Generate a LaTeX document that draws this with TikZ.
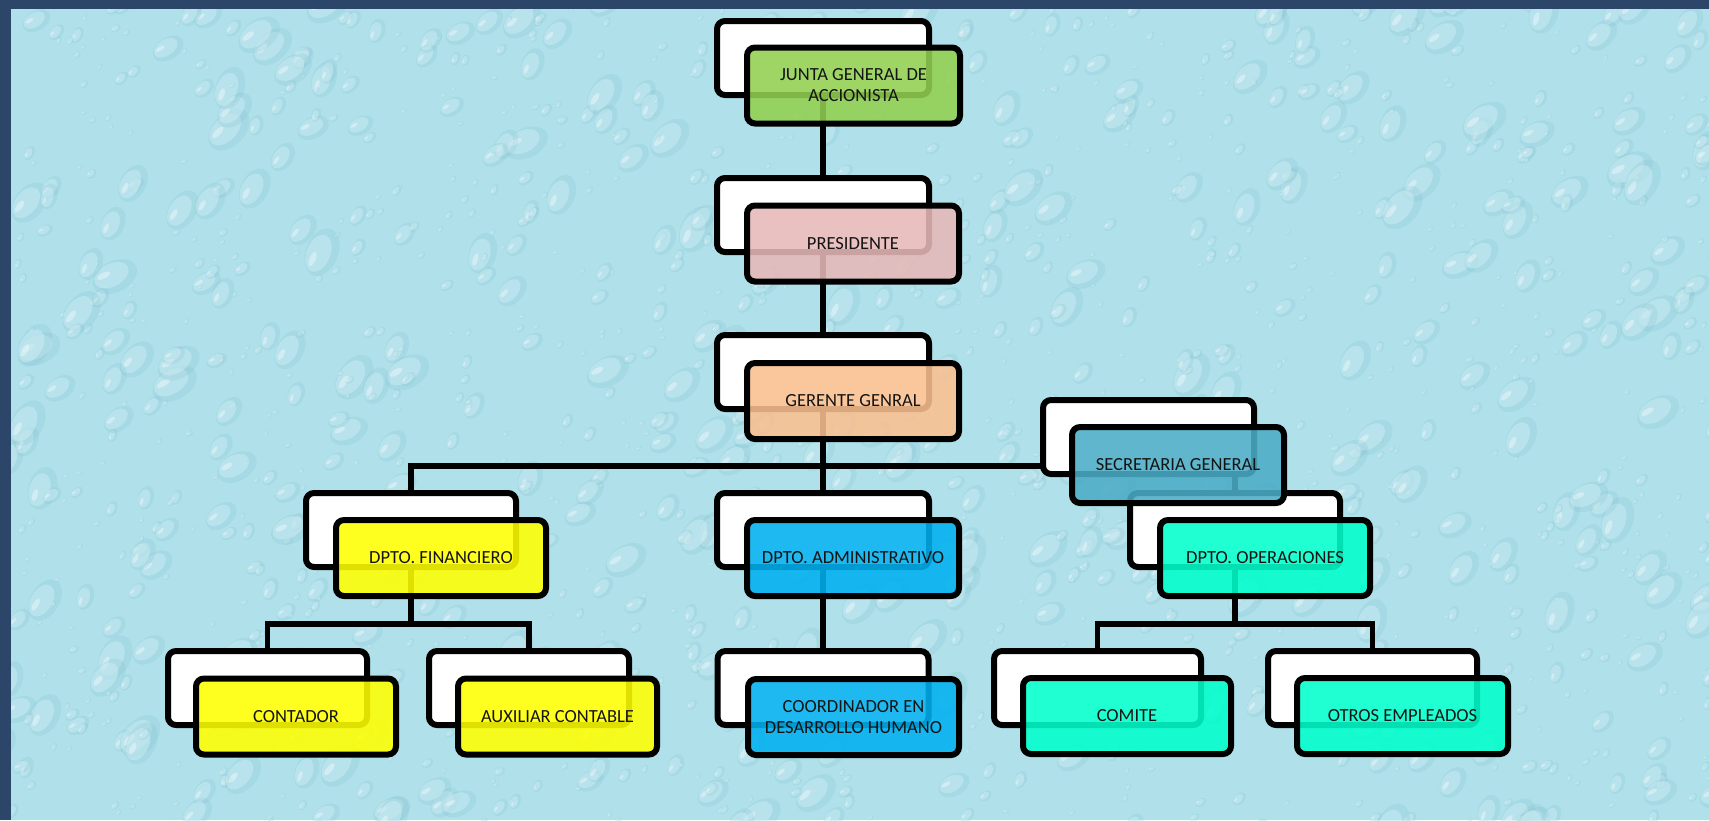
\documentclass[tikz,border=0pt]{standalone}
\usepackage{fontspec}
\setmainfont{Carlito}
\pgfdeclarelayer{back}
\pgfdeclarelayer{wires}
\pgfsetlayers{back,wires,main}
\definecolor{framenavy}{HTML}{2B4669}
\definecolor{waterbase}{HTML}{B0E1EA}
\definecolor{waterdark}{HTML}{7DBCCD}
\definecolor{waterlight}{HTML}{D2F1F6}
\definecolor{cgreen}{HTML}{92D050}
\definecolor{cpink}{HTML}{E6B9B8}
\definecolor{corange}{HTML}{FAC090}
\definecolor{caqua}{HTML}{4BACC6}
\definecolor{cyellow}{HTML}{FFFF00}
\definecolor{cblue}{HTML}{00B0F0}
\definecolor{cteal}{HTML}{00FFCC}
\definecolor{inktext}{HTML}{141414}
\begin{document}
\begin{tikzpicture}[x=1pt,y=-1pt,
  card/.style={draw=black, fill=white, line width=6pt, rounded corners=8pt,
    inner sep=0pt, minimum height=74pt},
  face/.style={draw=black, fill=#1, fill opacity=0.88, text opacity=1,
    line width=6pt, rounded corners=8pt, inner sep=0pt, minimum height=76pt,
    text=inktext, align=center,
    font=\fontsize{18.5}{21}\selectfont},
  wire/.style={draw=black, line width=5.5pt}]
\useasboundingbox (0,0) rectangle (1709,820);

% water-drop backdrop
\begin{pgfonlayer}{back}
  \fill[waterbase] (0,0) rectangle (1709,820);
  \begin{scope}
    \clip (10,8) rectangle (1709,820);
    \pgfmathsetseed{4242}
    \foreach \i in {1,...,1500}{
      \pgfmathsetmacro\dx{1720*rnd}
      \pgfmathsetmacro\dy{830*rnd}
      \pgfmathsetmacro\du{rnd}
      \pgfmathsetmacro\dr{3+22*\du*\du*\du}
      \pgfmathsetmacro\ang{25+50*rnd}
      \begin{scope}[shift={(\dx,\dy)}, rotate=\ang]
        \fill[waterdark, opacity=0.2] (0,0) ellipse [x radius=\dr pt, y radius=0.65*\dr pt];
        \fill[waterlight, opacity=0.45] (-0.1*\dr,-0.12*\dr) ellipse [x radius=0.78*\dr pt, y radius=0.48*\dr pt];
        \fill[white, opacity=0.35] (-0.4*\dr,-0.25*\dr) ellipse [x radius=0.3*\dr pt, y radius=0.12*\dr pt];
      \end{scope}
    }
  \end{scope}
  \fill[framenavy] (0,0) rectangle (1709,8.5);
  \fill[framenavy] (0,0) rectangle (10.5,820);
\end{pgfonlayer}

% white backing cards
\node[card, minimum width=212pt] (jw) at (823,58) {};
\node[card, minimum width=212pt] (pw) at (823,215) {};
\node[card, minimum width=212pt] (gw) at (823,372) {};
\node[card, minimum width=211pt] (sw) at (1148.5,437) {};
\node[card, minimum width=210pt] (fw) at (411,530) {};
\node[card, minimum width=212pt] (aw) at (823,530) {};
\node[card, minimum width=210pt] (ow) at (1235,530) {};
\node[card, minimum width=199pt] (cw) at (267.5,688) {};
\node[card, minimum width=200pt] (xw) at (529,688) {};
\node[card, minimum width=211pt] (dw) at (823,688) {};
\node[card, minimum width=207pt] (mw) at (1097.5,688) {};
\node[card, minimum width=209pt] (tw) at (1372.5,688) {};

% coloured front cards
\node[face=cgreen,  minimum width=213pt] (j) at (853.5,85.5) {JUNTA GENERAL DE\\ACCIONISTA};
\node[face=cpink,   minimum width=212pt] (p) at (853,243.5) {PRESIDENTE};
\node[face=corange, minimum width=212pt] (g) at (853,401) {GERENTE GENRAL};
\node[face=caqua,   minimum width=212pt] (s) at (1178,465) {SECRETARIA GENERAL};
\node[face=cyellow, minimum width=210pt] (f) at (441,558) {DPTO. FINANCIERO};
\node[face=cblue,   minimum width=212pt] (a) at (853,558) {DPTO. ADMINISTRATIVO};
\node[face=cteal,   minimum width=210pt] (o) at (1265,558) {DPTO. OPERACIONES};
\node[face=cyellow, minimum width=200pt] (c) at (296,716.5) {CONTADOR};
\node[face=cyellow, minimum width=199pt] (x) at (557.5,716.5) {AUXILIAR CONTABLE};
\node[face=cblue,   minimum width=211pt] (d) at (853.5,717) {COORDINADOR EN\\DESARROLLO HUMANO};
\node[face=cteal,   minimum width=208pt] (m) at (1127,716) {COMITE};
\node[face=cteal,   minimum width=211pt] (t) at (1402.5,716) {OTROS EMPLEADOS};

% connectors between the backing cards
\coordinate (busg) at (823,466);
\coordinate (busf) at (411,624);
\coordinate (buso) at (1235,624);
\begin{pgfonlayer}{wires}
  \draw[wire] (jw.center) -- (pw.center);
  \draw[wire] (pw.center) -- (gw.center);
  \draw[wire] (gw.center) -- (aw.center);
  \draw[wire] (fw.center) |- (busg) -| (ow.center);
  \draw[wire] (fw.center) -- (busf);
  \draw[wire] (cw.center) |- (busf) -| (xw.center);
  \draw[wire] (aw.center) -- (dw.center);
  \draw[wire] (ow.center) -- (buso);
  \draw[wire] (mw.center) |- (buso) -| (tw.center);
\end{pgfonlayer}
\end{tikzpicture}
\end{document}
